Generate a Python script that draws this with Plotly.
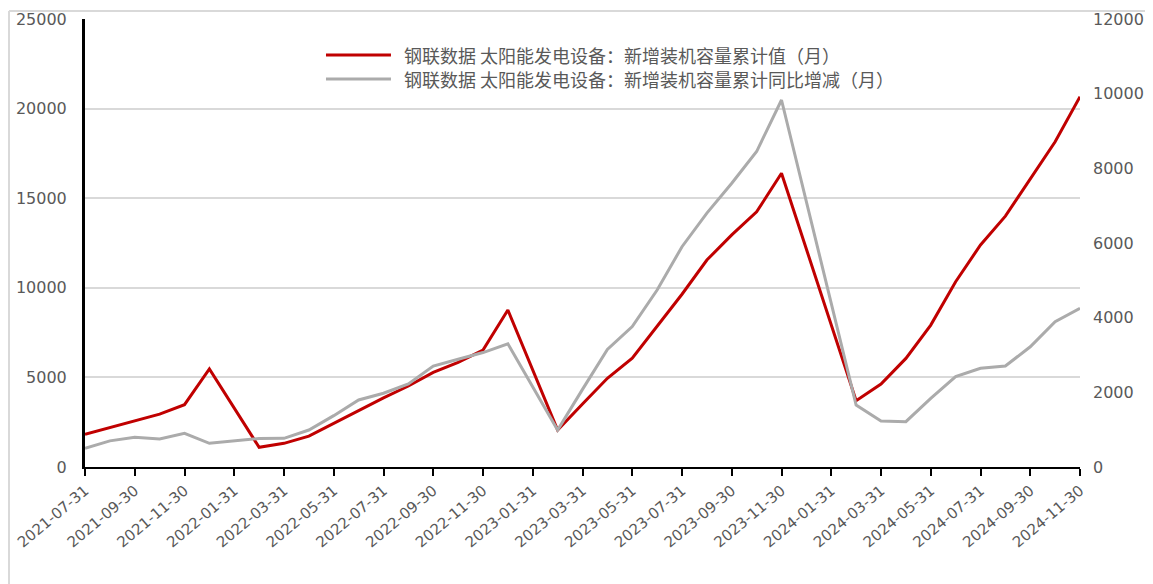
import plotly.graph_objects as go

months = [
    "2021-07-31", "2021-08-31", "2021-09-30", "2021-10-31", "2021-11-30", "2021-12-31",
    "2022-01-31", "2022-02-28", "2022-03-31", "2022-04-30", "2022-05-31", "2022-06-30",
    "2022-07-31", "2022-08-31", "2022-09-30", "2022-10-31", "2022-11-30", "2022-12-31",
    "2023-01-31", "2023-02-28", "2023-03-31", "2023-04-30", "2023-05-31", "2023-06-30",
    "2023-07-31", "2023-08-31", "2023-09-30", "2023-10-31", "2023-11-30", "2023-12-31",
    "2024-01-31", "2024-02-29", "2024-03-31", "2024-04-30", "2024-05-31", "2024-06-30",
    "2024-07-31", "2024-08-31", "2024-09-30", "2024-10-31", "2024-11-30",
]

# 新增装机容量累计值（左轴）
cumulative = [
    1820, 2210, 2580, 2950, 3480, 5470,
    None, 1100, 1320, 1720, 2430, 3170,
    3860, 4520, 5280, 5840, 6530, 8760,
    None, 2060, 3520, 4950, 6070, 7830,
    9640, 11550, 12950, 14240, 16390, None,
    None, 3700, 4630, 6060, 7920, 10340,
    12390, 14000, 16110, 18150, 20660,
]

# 新增装机容量累计同比增减（右轴）
yoy_change = [
    500, 700, 795, 750, 900, 635,
    None, 765, 768, 990, 1375, 1795,
    1975, 2225, 2705, 2885, 3065, 3300,
    None, 990, 2080, 3150, 3760, 4740,
    5900, 6800, 7600, 8450, 9830, None,
    None, 1660, 1230, 1215, 1840, 2420,
    2645, 2705, 3220, 3890, 4250,
]

tick_labels = months[::2]

series_names = [
    "钢联数据 太阳能发电设备：新增装机容量累计值（月）",
    "钢联数据 太阳能发电设备：新增装机容量累计同比增减（月）",
]
series_colors = ["#C00000", "#ABABAB"]

TXT = "#595959"
GRID = "#d9d9d9"

fig = go.Figure()
fig.add_trace(go.Scatter(
    x=months, y=cumulative, name=series_names[0], mode="lines",
    line=dict(color=series_colors[0], width=3), connectgaps=True, yaxis="y",
    showlegend=False,
))
fig.add_trace(go.Scatter(
    x=months, y=yoy_change, name=series_names[1], mode="lines",
    line=dict(color=series_colors[1], width=3), connectgaps=True, yaxis="y2",
    showlegend=False,
))

# legend drawn as line samples + text (paper coordinates)
leg_x0, leg_x1, leg_tx = 0.2422, 0.3075, 0.3196
leg_rows = [0.9196, 0.8661]
shapes = [
    dict(type="line", xref="paper", yref="paper",
         x0=-0.0764, x1=-0.0764, y0=1.018, y1=-0.3,
         line=dict(color=GRID, width=2)),
    dict(type="line", xref="paper", yref="paper",
         x0=-0.0764, x1=1.08, y0=1.018, y1=1.018,
         line=dict(color=GRID, width=2)),
]
annotations = []
for name, color, ry in zip(series_names, series_colors, leg_rows):
    shapes.append(dict(type="line", xref="paper", yref="paper",
                       x0=leg_x0, x1=leg_x1, y0=ry, y1=ry,
                       line=dict(color=color, width=3)))
    annotations.append(dict(xref="paper", yref="paper", x=leg_tx, y=ry,
                            xanchor="left", yanchor="middle", showarrow=False,
                            text=name, borderpad=0,
                            font=dict(family="Noto Sans CJK SC", size=18, color=TXT)))

fig.update_layout(
    width=1145, height=576,
    margin=dict(l=77, r=73, t=11, b=117, autoexpand=False),
    paper_bgcolor="white", plot_bgcolor="white",
    font=dict(family="DejaVu Sans", size=14, color=TXT),
    showlegend=False,
    xaxis=dict(
        type="category", automargin=False,
        categoryorder="array", categoryarray=months,
        range=[0, len(months) - 1],
        tickmode="array", tickvals=tick_labels, ticktext=tick_labels,
        tickangle=-40,
        ticks="outside", ticklen=7, tickwidth=2, tickcolor="black",
        showline=True, linecolor="black", linewidth=2,
        showgrid=False, zeroline=False,
        tickfont=dict(family="DejaVu Sans", size=15, color=TXT),
    ),
    yaxis=dict(
        automargin=False,
        range=[0, 25000], dtick=5000, tick0=0, tickformat="d",
        showline=True, linecolor="black", linewidth=3,
        showgrid=True, gridcolor=GRID, gridwidth=2,
        zeroline=False, ticks="",
        ticklabelstandoff=12,
        tickfont=dict(family="DejaVu Sans", size=16, color=TXT),
    ),
    yaxis2=dict(
        automargin=False,
        range=[0, 12000], dtick=2000, tick0=0, tickformat="d",
        overlaying="y", side="right",
        showline=False, showgrid=False, zeroline=False, ticks="",
        ticklabelstandoff=12,
        tickfont=dict(family="DejaVu Sans", size=16, color=TXT),
    ),
    shapes=shapes,
    annotations=annotations,
)

fig.write_html("out.html")
